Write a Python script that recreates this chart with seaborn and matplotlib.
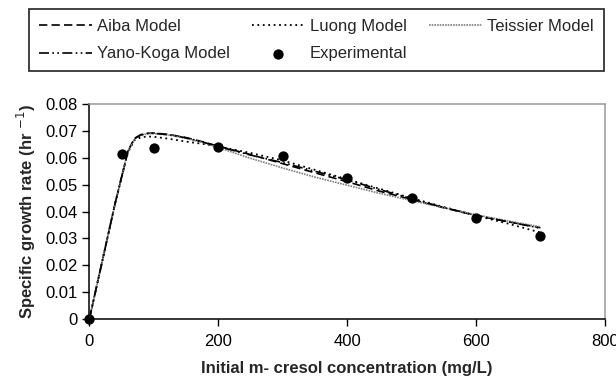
import matplotlib
matplotlib.use("Agg")
import matplotlib.pyplot as plt
import seaborn as sns
import pandas as pd

# Model curves
conc = [0, 20, 40, 60, 70, 80, 90, 100, 125, 150, 175, 200, 250, 300, 350,
        400, 450, 500, 550, 600, 650, 700]
aiba = [0, 0.0215, 0.043, 0.0625, 0.0672, 0.0686, 0.0691, 0.0692, 0.0686,
        0.0675, 0.066, 0.0643, 0.0612, 0.0578, 0.0544, 0.0511, 0.0476, 0.0445,
        0.0414, 0.0385, 0.0362, 0.0340]
luong = [0, 0.0215, 0.043, 0.0620, 0.0665, 0.0676, 0.0679, 0.0678, 0.0670,
         0.0660, 0.0652, 0.0642, 0.0618, 0.0590, 0.0555, 0.0520, 0.0485,
         0.0450, 0.0417, 0.0385, 0.0355, 0.0322]
teissier = [0, 0.0215, 0.043, 0.0625, 0.0670, 0.0684, 0.0689, 0.0690, 0.0684,
            0.0672, 0.0657, 0.0638, 0.0598, 0.0562, 0.0528, 0.0498, 0.0468,
            0.0441, 0.0414, 0.0388, 0.0365, 0.0343]
yano_koga = [0, 0.0215, 0.043, 0.0625, 0.0671, 0.0685, 0.0690, 0.0691, 0.0685,
             0.0674, 0.0659, 0.0642, 0.0610, 0.0582, 0.0550, 0.0518, 0.0482,
             0.0448, 0.0415, 0.0386, 0.0362, 0.0338]

# Experimental points
exp_conc = [0, 50, 100, 200, 300, 400, 500, 600, 700]
exp_rate = [0, 0.0615, 0.0635, 0.064, 0.0605, 0.0525, 0.045, 0.0375, 0.031]

x_ticks = [0, 200, 400, 600, 800]
y_ticks = [0, 0.01, 0.02, 0.03, 0.04, 0.05, 0.06, 0.07, 0.08]

sns.set_style("white")
plt.rcParams["font.family"] = ["Liberation Sans", "DejaVu Sans"]

fig = plt.figure(figsize=(6.16, 3.85), dpi=100)
ax = fig.add_axes([0.145, 0.171, 0.837, 0.559])

models = pd.DataFrame({"conc": conc, "Aiba Model": aiba, "Luong Model": luong,
                       "Teissier Model": teissier, "Yano-Koga Model": yano_koga})

styles = {
    "Aiba Model": dict(color="black", linestyle=(0, (5, 2.5)), linewidth=1.2),
    "Luong Model": dict(color="black", linestyle=(0, (1, 2)), linewidth=1.3),
    "Teissier Model": dict(color="0.5", linestyle=(0, (1, 0.6)), linewidth=1.2),
    "Yano-Koga Model": dict(color="black", linestyle=(0, (6, 2, 1, 2, 1, 2)),
                            linewidth=1.2),
}
for name, st in styles.items():
    sns.lineplot(data=models, x="conc", y=name, ax=ax, label=name, **st)

sns.scatterplot(x=exp_conc, y=exp_rate, ax=ax, color="black", s=55,
                edgecolor="black", linewidth=0, label="Experimental",
                zorder=5, clip_on=False)

ax.set_xlim(0, 800)
ax.set_ylim(0, 0.08)
ax.set_xticks(x_ticks)
ax.set_yticks(y_ticks)
ax.set_yticklabels([f"{v:g}" for v in y_ticks])
ax.tick_params(axis="both", direction="out", length=5, width=1,
               labelsize=12, colors="black", left=True, bottom=True)
ax.tick_params(axis="x", pad=6)

for side in ["left", "bottom"]:
    ax.spines[side].set_color("black")
    ax.spines[side].set_linewidth(1.1)
for side in ["top", "right"]:
    ax.spines[side].set_color("0.6")
    ax.spines[side].set_linewidth(1.1)

ax.set_xlabel("Initial m- cresol concentration (mg/L)", fontsize=12,
              fontweight="bold", labelpad=8)
ax.set_ylabel("Specific growth rate (hr $^{-1}$)", fontsize=12,
              fontweight="bold", labelpad=5)

# Legend above the plot, row-major order
handles, labels = ax.get_legend_handles_labels()
order = [0, 3, 1, 4, 2]
ax.legend([handles[i] for i in order], [labels[i] for i in order],
          ncol=3, loc="upper left", mode="expand",
          bbox_to_anchor=(29 / 616, 1 - 77 / 385, 575 / 616, 68 / 385),
          bbox_transform=fig.transFigure, frameon=True, fancybox=False,
          edgecolor="black", fontsize=12, handlelength=3.2, handletextpad=0.3,
          borderaxespad=0, labelspacing=0.75, borderpad=0.6)
ax.get_legend().get_frame().set_linewidth(1.3)

fig.savefig("out.png", dpi=100)
